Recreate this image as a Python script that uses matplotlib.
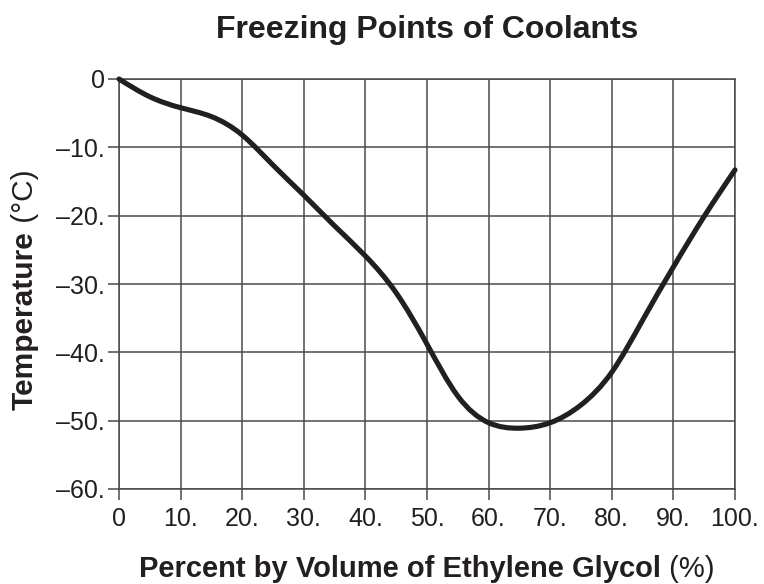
import matplotlib
matplotlib.use("Agg")
import matplotlib.pyplot as plt
import numpy as np
from matplotlib.path import Path
from matplotlib.patches import PathPatch

plt.rcParams['font.family'] = ['Liberation Sans', 'DejaVu Sans']

# Data
percent = [0, 5, 10, 15, 20, 25, 30, 35, 40, 45, 50, 55, 60, 65, 70, 75, 80, 85, 90, 95, 100]
temperature = [0, -2.6, -4.2, -5.5, -8.2, -12.6, -17.0, -21.5, -25.9, -31.3, -38.8, -46.4,
               -50.3, -51.1, -50.3, -47.7, -42.9, -35.3, -27.5, -20.1, -13.3]
x_ticks = [0, 10, 20, 30, 40, 50, 60, 70, 80, 90, 100]
x_labels = ["0", "10.", "20.", "30.", "40.", "50.", "60.", "70.", "80.", "90.", "100."]
y_ticks = [0, -10, -20, -30, -40, -50, -60]
y_labels = ["0", "\u201310.", "\u201320.", "\u201330.", "\u201340.", "\u201350.", "\u201360."]

title = "Freezing Points of Coolants"
xlabel_bold, xlabel_reg = "Percent by Volume of Ethylene Glycol", " (%)"
ylabel_bold, ylabel_reg = "Temperature", " (\u00b0C)"

W, H = 764, 584
fig = plt.figure(figsize=(W / 100, H / 100), dpi=100)
ax = fig.add_axes([119 / W, 1 - 489 / H, (735 - 119) / W, (489 - 79) / H])

grid_c = '#4a4a4a'
text_c = '#231f20'
curve_c = '#231f20'

ax.set_xlim(0, 100)
ax.set_ylim(-60, 0)
ax.set_xticks(x_ticks)
ax.set_xticklabels(x_labels, fontsize=18)
ax.set_yticks(y_ticks)
ax.set_yticklabels(y_labels, fontsize=18)
ax.grid(True, color=grid_c, linewidth=1.1)
ax.set_axisbelow(True)
for s in ax.spines.values():
    s.set_color(grid_c)
    s.set_linewidth(1.1)
ax.tick_params(direction='out', length=8, width=1.1, color=grid_c)
ax.tick_params(axis='x', pad=5, labelcolor=text_c)
ax.tick_params(axis='y', pad=2, labelcolor=text_c)

# Smooth curve through the read points: natural cubic spline, drawn as Bezier path
xk = np.array(percent, float)
yk = np.array(temperature, float)
n = len(xk)
h = np.diff(xk)
A = np.zeros((n, n))
b = np.zeros(n)
A[0, 0] = 1
A[-1, -1] = 1
for i in range(1, n - 1):
    A[i, i - 1] = h[i - 1]
    A[i, i] = 2 * (h[i - 1] + h[i])
    A[i, i + 1] = h[i]
    b[i] = 6 * ((yk[i + 1] - yk[i]) / h[i] - (yk[i] - yk[i - 1]) / h[i - 1])
M = np.linalg.solve(A, b)
slopes = np.zeros(n)
for i in range(n - 1):
    slopes[i] = (yk[i + 1] - yk[i]) / h[i] - h[i] * (2 * M[i] + M[i + 1]) / 6
slopes[-1] = (yk[-1] - yk[-2]) / h[-1] + h[-1] * (M[-2] + 2 * M[-1]) / 6
verts = [(xk[0], yk[0])]
codes = [Path.MOVETO]
for i in range(n - 1):
    d = h[i] / 3
    verts += [(xk[i] + d, yk[i] + slopes[i] * d),
              (xk[i + 1] - d, yk[i + 1] - slopes[i + 1] * d),
              (xk[i + 1], yk[i + 1])]
    codes += [Path.CURVE4] * 3
patch = PathPatch(Path(verts, codes), facecolor='none', edgecolor=curve_c,
                  linewidth=3.7, capstyle='round', joinstyle='round', zorder=3,
                  clip_on=False)
ax.add_patch(patch)

# Title
fig.text((119 + 735) / 2 / W, 1 - 38 / H, title, ha='center', va='baseline',
         fontsize=23, fontweight='bold', color=text_c)

fig.canvas.draw()
r = fig.canvas.get_renderer()

# X label (bold + regular)
yb = 1 - 577 / H
t1 = fig.text(0, yb, xlabel_bold, fontsize=21, fontweight='bold', va='baseline', ha='left', color=text_c)
t2 = fig.text(0, yb, xlabel_reg, fontsize=21, va='baseline', ha='left', color=text_c)
w1 = t1.get_window_extent(r).width
w2 = t2.get_window_extent(r).width
cx = (119 + 735) / 2
start = cx - (w1 + w2) / 2
t1.set_x(start / W)
t2.set_x((start + w1) / W)

# Y label (bold + regular), rotated
xc = 25 / W
s1 = fig.text(xc, 0, ylabel_bold, fontsize=21.5, fontweight='bold', rotation=90,
              va='bottom', ha='center', color=text_c)
s2 = fig.text(xc, 0, ylabel_reg, fontsize=21.5, rotation=90,
              va='bottom', ha='center', color=text_c)
h1 = s1.get_window_extent(r).height
h2 = s2.get_window_extent(r).height
cy = H - 290
startY = cy - (h1 + h2) / 2
s1.set_y(startY / H)
s2.set_y((startY + h1) / H)

fig.savefig('out.png', dpi=100)
